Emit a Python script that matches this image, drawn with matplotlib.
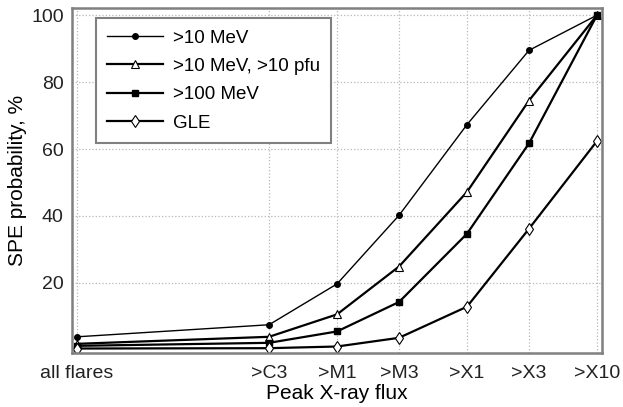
import numpy as np
import matplotlib
matplotlib.use("Agg")
import matplotlib.pyplot as plt

plt.rcParams['font.family'] = ['Liberation Sans', 'DejaVu Sans']

# Classes de fluxo (limiar em W/m^2) e rótulos
fluxo = [1e-7, 3e-6, 1e-5, 3e-5, 1e-4, 3e-4, 1e-3]
rotulos = ['all flares', '>C3', '>M1', '>M3', '>X1', '>X3', '>X10']

p10 = [3.9, 7.5, 19.7, 40.2, 67.3, 89.5, 100]
p10pfu = [1.8, 3.9, 10.6, 24.9, 47.2, 74.5, 100]
p100 = [1.2, 2.1, 5.5, 14.3, 34.7, 61.7, 100]
gle = [0.4, 0.5, 1.0, 3.6, 12.9, 36.2, 62.4]

fig = plt.figure(figsize=(6.23, 4.07), dpi=100)
ax = fig.add_axes([0.1156, 0.133, 0.8507, 0.847])

ax.plot(fluxo, p10, '-o', color='black', lw=1.0, ms=4, label='>10 MeV')
ax.plot(fluxo, p10pfu, '-^', color='black', lw=1.6, ms=6, mfc='white', mew=0.8, label='>10 MeV, >10 pfu')
ax.plot(fluxo, p100, '-s', color='black', lw=1.6, ms=4, label='>100 MeV')
ax.plot(fluxo, gle, '-d', color='black', lw=1.6, ms=6.5, mfc='white', mew=0.8, label='GLE')

ax.set_xscale('log')
ax.set_xlim(1e-7 * 10 ** (-5 / 130), 1e-3 * 10 ** (5 / 130))
ax.set_ylim(-0.9, 102.1)
ax.set_xticks(fluxo)
ax.set_xticklabels(rotulos)
ax.xaxis.set_minor_locator(matplotlib.ticker.NullLocator())
ax.set_yticks([20, 40, 60, 80, 100])
ax.tick_params(length=0, labelsize=14, colors='#222222', pad=6)
ax.tick_params(axis='x', pad=9)
ax.grid(True, ls=':', color='#b8b8b8', lw=0.9)

for s in ax.spines.values():
    s.set_color('#808080')
    s.set_linewidth(1.8)

ax.set_xlabel('Peak X-ray flux', fontsize=15, labelpad=1)
ax.set_ylabel('SPE probability, %', fontsize=15, labelpad=3)

leg = ax.legend(loc='upper left', bbox_to_anchor=(0.045, 0.971), borderaxespad=0,
                fancybox=False, fontsize=13.5, handlelength=3.0, labelspacing=0.6,
                borderpad=0.6, handletextpad=0.5, framealpha=1)
leg.get_frame().set_edgecolor('#808080')
leg.get_frame().set_linewidth(1.5)

fig.savefig('out.png', dpi=100)
